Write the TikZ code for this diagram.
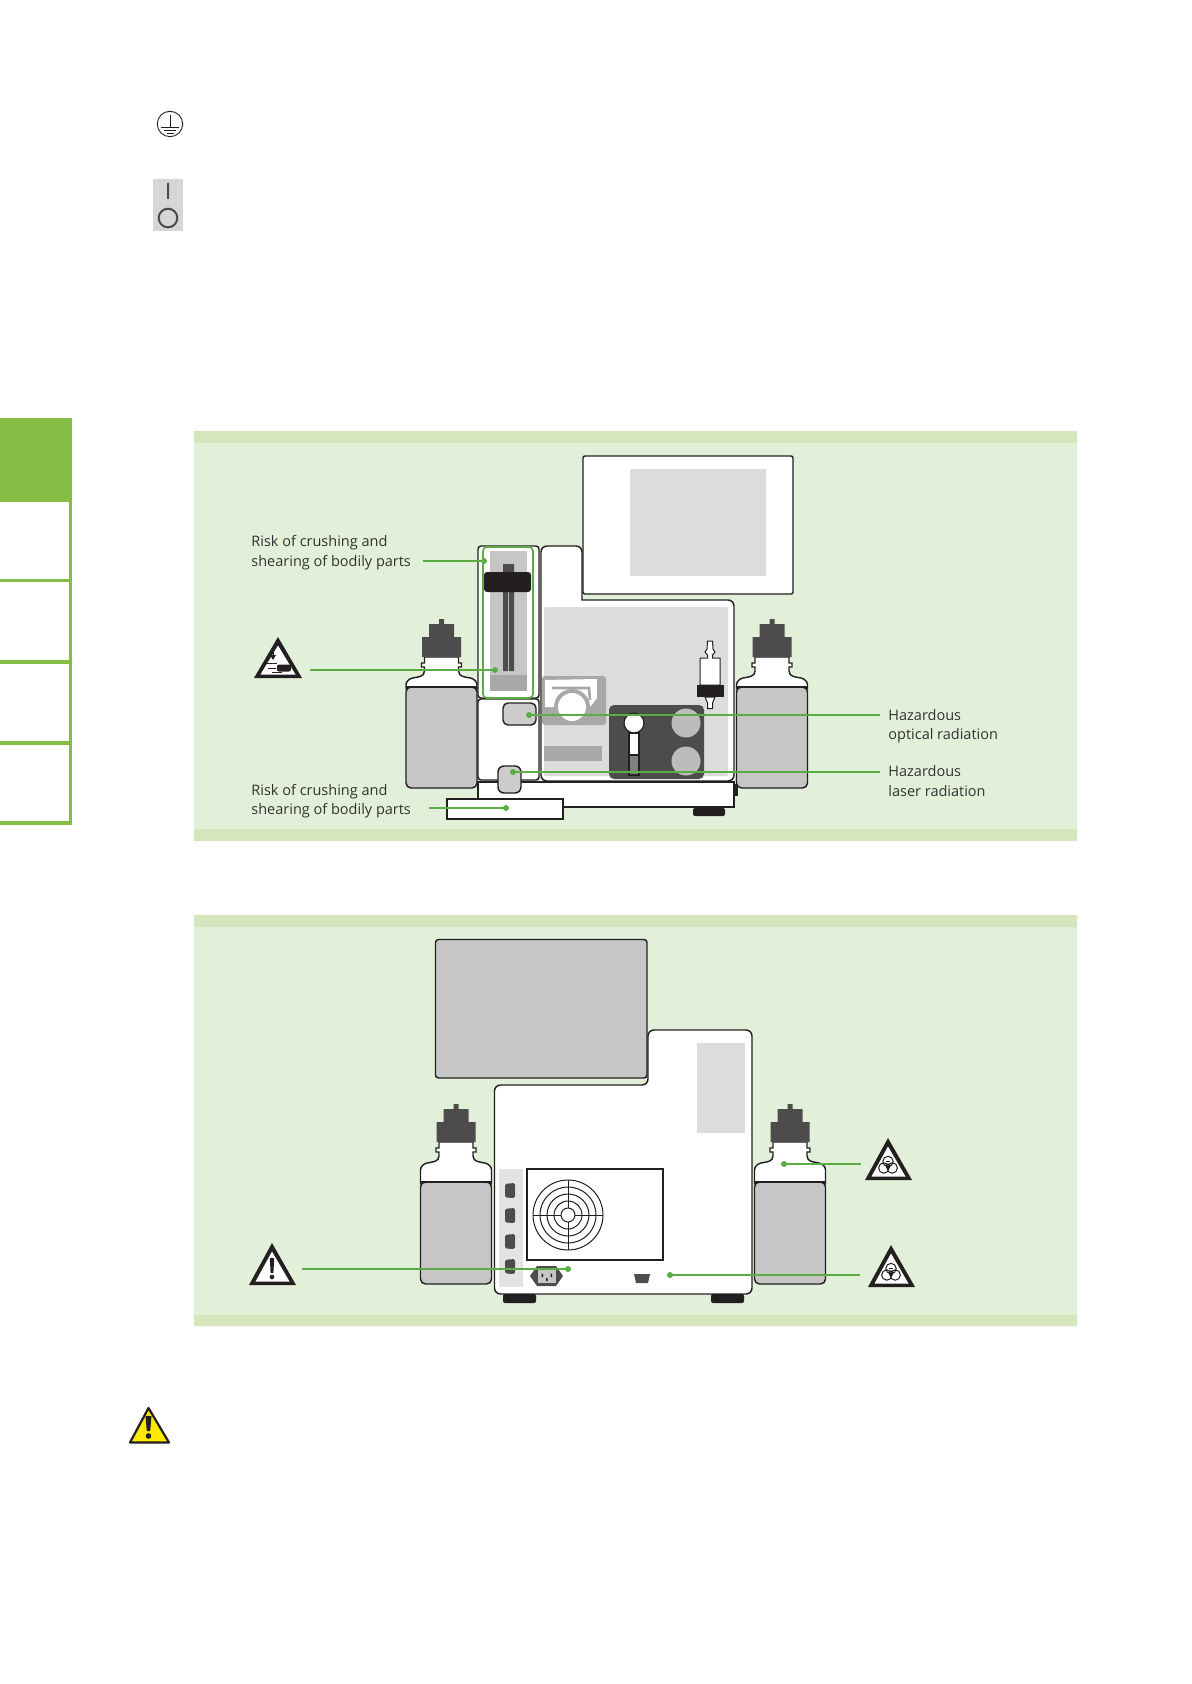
\documentclass[tikz,border=0pt]{standalone}
\usepackage{fontspec}
\setmainfont{Open Sans}
\definecolor{panelbg}{RGB}{226,240,217}
\definecolor{panelband}{RGB}{214,230,188}
\definecolor{leadgreen}{RGB}{90,173,69}
\definecolor{tabgreen}{RGB}{133,190,68}
\definecolor{outl}{RGB}{35,31,32}
\definecolor{darkg}{RGB}{77,75,76}
\definecolor{midg}{RGB}{198,198,198}
\definecolor{ligg}{RGB}{220,220,220}
\definecolor{pumpg}{RGB}{168,168,168}
\definecolor{txt}{RGB}{50,50,50}
\tikzset{
 ol/.style={draw=outl,line width=0.72pt},
 thin ol/.style={draw=outl,line width=0.5pt},
 leader/.style={draw=leadgreen,line width=0.8pt},
 leaddot/.style={circle,fill=leadgreen,inner sep=0pt,minimum size=3pt},
 lbl/.style={anchor=west,align=left,inner sep=0pt,text=txt,font=\fontsize{7.25}{9.75}\selectfont},
 tabline/.style={draw=tabgreen,line width=1.8pt},
}
\newcommand\bottle[4]{% cx, nub top, gray top, bottom
 \begin{scope}[shift={(#1,#2)}]
  \path[ol,fill=white] (-17,38) -- (-17,44) -- (-20,44) -- (-20,48) -- (-17,48) -- (-17,52)
    .. controls (-17,58) and (-24,58) .. (-29,59) .. controls (-33,60) and (-35.5,63) .. (-35.5,66)
    -- (-35.5,#3-#2+2) -- (35.5,#3-#2+2) -- (35.5,66)
    .. controls (35.5,63) and (33,60) .. (29,59) .. controls (24,58) and (17,58) .. (17,52)
    -- (17,48) -- (20,48) -- (20,44) -- (17,44) -- (17,38) -- cycle;
  \path[ol,fill=midg,rounded corners=2.5pt] (-35.5,#3-#2) -- (35.5,#3-#2) -- (35.5,#4-#2) -- (-35.5,#4-#2) -- cycle;
  \path[ol,fill=midg,sharp corners] (-35.5,#3-#2) -- (35.5,#3-#2);
  \fill[darkg] (-2.5,0) rectangle (2.5,5) (-12.5,5) rectangle (12.5,18) (-19.5,18) rectangle (19.5,38);
 \end{scope}}
\newcommand\warntri[5]{% apex x, apex y, left x, right x, base y
  \path[fill=outl] (#1,#2) -- (#4,#5) -- (#3,#5) -- cycle;
  \path[fill=white] (#1,#2+8.5) -- (#4-6.5,#5-3.5) -- (#3+6.5,#5-3.5) -- cycle;}
\newcommand\biosym[2]{%
 \begin{scope}[shift={(#1,#2)},draw=outl,line width=0.5pt]
  \draw (0,-4.5) circle (5.2) (-4.2,2) circle (5.2) (4.2,2) circle (5.2) (0,0) circle (2);
  \fill[outl] (-2.2,-5.4) rectangle (2.2,-4.6);
 \end{scope}}
\begin{document}
\begin{tikzpicture}[x=0.5pt,y=-0.5pt]
\useasboundingbox (0,0) rectangle (1191,1684);
\fill[white] (0,0) rectangle (1191,1684);
% side tabs
\fill[tabgreen] (0,418) rectangle (72,502);
\draw[tabline] (0,580.5) -- (70,580.5) (0,662) -- (70,662) (0,743) -- (70,743) (0,823) -- (72,823) (70.5,502) -- (70.5,824.8);
% earth symbol
\draw[outl,line width=0.45pt] (170,124) circle (12.7);
\draw[outl,line width=0.45pt] (170,115) -- (170,127) (161,127) -- (179,127) (164,130) -- (176,130) (166.5,133) -- (173.5,133);
% switch
\fill[black!16] (153,179) rectangle (183,231);
\draw[darkg,line width=1pt] (168,183) -- (168,199) (168,218) circle (9.3);
% PANEL 1
\fill[panelbg] (194,443) rectangle (1077,829);
\fill[panelband] (194,431) rectangle (1077,443) (194,829) rectangle (1077,841);
% screen
\path[ol,fill=white,rounded corners=1pt] (583,456) rectangle (793,594);
\fill[ligg] (630,469) rectangle (766,576);
% main body
\path[ol,fill=white] (546,781) [rounded corners=3pt] -- (541,781) -- (541,546) -- (582,546) [sharp corners] -- (582,600) [rounded corners=3pt] -- (734,600) -- (734,781) [sharp corners] -- cycle;
\fill[ligg,rounded corners=1pt] (544,607) rectangle (728,776);
% base
\path[ol,fill=white] (478,782) rectangle (734,807);
\fill[outl] (734,784) rectangle (738,796);
\fill[outl,rounded corners=1pt] (693,808) rectangle (725,816);
% column housing
\path[ol,fill=white,rounded corners=1.5pt] (478,546) rectangle (539,698);
\path[ol,fill=white,rounded corners=1.5pt] (478,699) rectangle (539,780);
\fill[midg] (490,551) rectangle (527,691);
\fill[pumpg] (490,675) rectangle (527,691);
\fill[darkg] (503,564) rectangle (514,573) (503,590) rectangle (508,671) (509,590) rectangle (514,671);
\fill[outl,rounded corners=1.5pt] (484,572) rectangle (531,592);
\draw[leadgreen,line width=0.8pt,rounded corners=2pt] (483,547) rectangle (533,698);
\path[ol,fill=midg!90!white,rounded corners=2.5pt] (503,703) rectangle (536,725);
\path[ol,fill=midg!90!white,rounded corners=3pt] (498,766) rectangle (521,793);
% foot plate
\path[ol,fill=white] (447,799) rectangle (563,819);
% pump
\fill[pumpg,rounded corners=1.5pt] (542,676) rectangle (606,725);
\fill[white] (545,680) -- (597,679) -- (597,698) -- (590,707) -- (545,707) -- cycle;
\fill[pumpg] (572,707) circle (18);
\fill[white] (572,707) circle (14);
\draw[pumpg,line width=1.3pt] (552,688) -- (589,688) -- (590,700);
\fill[pumpg] (544,746) rectangle (602,761);
% dark panel
\fill[darkg,rounded corners=2.5pt] (609,705) rectangle (704,779);
\fill[midg!95!black] (686,723) circle (14.5) (686,761) circle (14.5);
\path[fill=white,draw=outl,line width=0.6pt] (629,733) rectangle (639,755);
\path[fill=gray,draw=outl,line width=0.6pt] (629,755) rectangle (639,775);
\path[fill=white,draw=outl,line width=0.6pt] (634,723) circle (10);
% filter
\path[thin ol,fill=white] (707.5,641) -- (712.5,641) -- (713,649) -- (715,652) -- (712.5,655) -- (712.5,658) -- (720,658) -- (720,685) -- (700,685) -- (700,658) -- (707.5,658) -- (707.5,655) -- (705,652) -- (707,649) -- cycle;
\path[thin ol,fill=white] (705,697) -- (715,697) -- (712.5,703) -- (712.5,708.5) -- (707.5,708.5) -- (707.5,703) -- cycle;
\fill[outl] (697,685) rectangle (724,697);
% bottles
\bottle{441.5}{619}{687}{788}
\bottle{772}{619}{687}{788}
% crush icon
\warntri{278}{637}{254}{302}{678}
\draw[outl,line width=0.5pt] (273,649) -- (273,656);
\fill[outl] (270,655) -- (276,655) -- (273,660) -- cycle;
\draw[outl,line width=0.35pt] (266,663) -- (277,663) (268,668) -- (276,668) (272,672.5) -- (282,672.5);
\fill[outl,rounded corners=1pt] (277,664.5) rectangle (291,671.5);
% leaders panel 1
\node[leaddot] (d1) at (484,561) {};
\node[leaddot] (d2) at (495,670) {};
\node[leaddot] (d3) at (529,715) {};
\node[leaddot] (d4) at (513,772) {};
\node[leaddot] (d5) at (506,808) {};
\coordinate (e1) at (423,561);
\coordinate (e2) at (310,670);
\coordinate (e3) at (880,715);
\coordinate (e4) at (880,772);
\coordinate (e5) at (429,808);
\draw[leader] (e1) -- (d1.center);
\draw[leader] (e2) -- (d2.center);
\draw[leader] (e3) -- (d3.center);
\draw[leader] (e4) -- (d4.center);
\draw[leader] (e5) -- (d5.center);
\node[lbl] (t1) at (251,552.5) {Risk of crushing and\\shearing of bodily parts};
\node[lbl] (t2) at (251,801) {Risk of crushing and\\shearing of bodily parts};
\node[lbl] (t3) at (888,726) {Hazardous\\optical radiation};
\node[lbl] (t4) at (888,781) {Hazardous\\laser radiation};
% PANEL 2
\fill[panelbg] (194,927) rectangle (1077,1315);
\fill[panelband] (194,915) rectangle (1077,927) (194,1315) rectangle (1077,1326);
% body back
\path[ol,fill=white] (520,1294) [rounded corners=3pt] -- (494.5,1294) -- (494.5,1085) -- (648,1085) [sharp corners] -- (648,1060) [rounded corners=3pt] -- (648,1030) -- (752,1030) -- (752,1294) [sharp corners] -- cycle;
\path[ol,fill=midg,rounded corners=1.5pt] (435.5,939.5) rectangle (647,1078);
\fill[ligg] (697,1043) rectangle (745,1133);
\fill[ligg!80!white] (499,1169) rectangle (523,1287);
\foreach \yy in {1183,1208,1234,1259} \fill[darkg,rounded corners=0.8pt] (505,\yy+0.8) -- (515,\yy) -- (515,\yy+15) -- (505,\yy+14.5) -- cycle;
\path[ol,fill=white] (527,1169) rectangle (663,1260);
\draw[outl,line width=0.5pt] (568,1215) circle (35) (568,1215) circle (28) (568,1215) circle (21) (568,1215) circle (14) (568,1215) circle (7);
\draw[outl,line width=0.5pt] (533,1215) -- (561,1215) (575,1215) -- (603,1215) (568,1180) -- (568,1208) (568,1222) -- (568,1250);
% plug
\fill[darkg] (530,1276) -- (537,1266) -- (556,1266) -- (563,1276) -- (556,1286) -- (537,1286) -- cycle;
\fill[midg] (538,1270) rectangle (556,1283);
\fill[outl] (541.5,1273.5) rectangle (543,1277) (550.5,1273.5) rectangle (552,1277) (546,1278) rectangle (547.5,1281);
\fill[darkg] (634,1274) -- (650,1274) -- (648,1283) -- (636,1283) -- cycle;
\fill[outl,rounded corners=1pt] (503,1294) rectangle (536,1303) (711,1294) rectangle (744,1303);
% bottles back
\bottle{456}{1104}{1182}{1284}
\bottle{790}{1104}{1182}{1284}
% warning icons
\warntri{272}{1243}{249}{296}{1285}
\fill[outl] (269.8,1258) -- (274.2,1258) -- (273.4,1273) -- (270.6,1273) -- cycle;
\fill[outl] (272,1277) circle (2.3);
\warntri{888}{1138}{865}{912}{1180}
\biosym{888}{1166}
\warntri{891}{1245}{868}{915}{1287}
\biosym{891}{1273}
\node[leaddot] (d6) at (568,1269) {};
\node[leaddot] (d7) at (670,1275) {};
\node[leaddot] (d8) at (784,1164) {};
\coordinate (e6) at (302,1269);
\coordinate (e7) at (860,1275);
\coordinate (e8) at (861,1164);
\draw[leader] (e6) -- (d6.center);
\draw[leader] (e7) -- (d7.center);
\draw[leader] (e8) -- (d8.center);
% yellow warning
\path[draw=outl,fill=yellow!92!orange,line width=1.1pt,line join=round] (148.5,1408) -- (169,1442.5) -- (130,1442.5) -- cycle;
\fill[outl] (145.5,1416) -- (151.5,1416) -- (150.2,1431) -- (146.8,1431) -- cycle;
\fill[outl] (148.5,1436) circle (2.8);
\end{tikzpicture}
\end{document}
